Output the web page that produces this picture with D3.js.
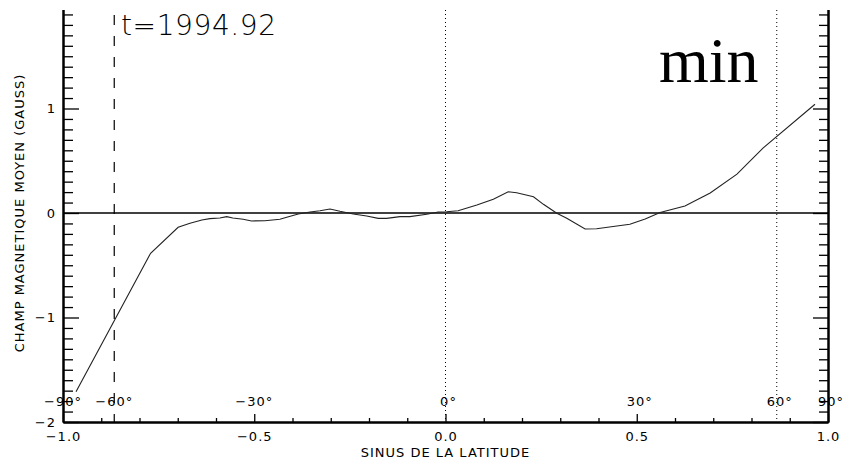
<!DOCTYPE html>
<html>
<head>
<meta charset="utf-8">
<script src="https://cdn.jsdelivr.net/npm/d3@7"></script>
<style>
  html, body { margin: 0; padding: 0; background: #fff; }
  svg { display: block; }
  .lab { font-family: "DejaVu Sans", sans-serif; font-size: 13px; letter-spacing: 1px; fill: #000; }
</style>
</head>
<body>
<svg id="chart" width="845" height="462"></svg>
<script>
// ---- data ----
const sinLat = [-0.966, -0.771, -0.699, -0.668, -0.637, -0.616, -0.590, -0.572, -0.556, -0.529,
  -0.507, -0.472, -0.433, -0.415, -0.385, -0.354, -0.328, -0.302, -0.276, -0.241,
  -0.206, -0.176, -0.154, -0.119, -0.093, -0.049, -0.019, 0.003, 0.033, 0.082,
  0.125, 0.164, 0.186, 0.230, 0.256, 0.291, 0.317, 0.365, 0.395, 0.448,
  0.482, 0.522, 0.561, 0.626, 0.692, 0.762, 0.830, 0.966];
const field = [-1.710, -0.385, -0.137, -0.098, -0.067, -0.054, -0.048, -0.035, -0.048, -0.060,
  -0.076, -0.074, -0.060, -0.041, -0.010, 0.010, 0.022, 0.038, 0.016, -0.010,
  -0.029, -0.051, -0.051, -0.035, -0.035, -0.012, 0.010, 0.012, 0.022, 0.076,
  0.131, 0.203, 0.194, 0.156, 0.083, -0.003, -0.051, -0.153, -0.150, -0.124,
  -0.108, -0.057, 0.005, 0.067, 0.191, 0.372, 0.621, 1.041];
const xMajorTicks = [-1.0, -0.5, 0.0, 0.5, 1.0];
const yMajorTicks = [-2, -1, 0, 1];
const latDegrees = [-90, -60, -30, 0, 30, 60, 90];
const latLabels = ["\u221290\u00b0", "\u221260\u00b0", "\u221230\u00b0", "0\u00b0", "30\u00b0", "60\u00b0", "90\u00b0"];
const dashedLat = [-60];
const dottedLat = [0, 60];
const xTitle = "SINUS DE LA LATITUDE";
const yTitle = "CHAMP MAGNETIQUE MOYEN (GAUSS)";
const timeLabel = "t=1994.92";
const phaseLabel = "min";

// ---- layout ----
const L = 63, R = 828, B = 422, T = 4, visTop = 10;
const svg = d3.select("#chart");
const x = d3.scaleLinear().domain([-1, 1]).range([L, R]);
const y = d3.scaleLinear().domain([-2, 2]).range([B, T]);

svg.append("defs").append("clipPath").attr("id", "clipTop")
  .append("rect").attr("x", 0).attr("y", visTop).attr("width", 845).attr("height", 462 - visTop);

const g = svg.append("g").attr("clip-path", "url(#clipTop)");

const xMinor = d3.range(-10, 11).map(i => +(i / 10).toFixed(1)).filter(v => !xMajorTicks.includes(v));
const yMinor = d3.range(-20, 20).map(i => +(i / 10).toFixed(1)).filter(v => !yMajorTicks.includes(v));

function styleAxis(sel, w) {
  sel.select(".domain").attr("stroke", "#000").attr("stroke-width", w);
  sel.selectAll(".tick line").attr("stroke", "#000").attr("stroke-width", 1.3);
}

// bottom axis
const bx1 = g.append("g").attr("transform", `translate(0,${B})`)
  .call(d3.axisBottom(x).tickValues(xMinor).tickSize(-4).tickSizeOuter(0).tickFormat(""));
styleAxis(bx1, 2);
const bx2 = g.append("g").attr("transform", `translate(0,${B})`)
  .call(d3.axisBottom(x).tickValues(xMajorTicks).tickSize(-8).tickSizeOuter(0).tickPadding(10).tickFormat(d3.format(".1f")));
styleAxis(bx2, 2);
bx2.selectAll("text").attr("class", "lab").attr("font-size", null).attr("font-family", null);

// left axis
const ly1 = g.append("g").attr("transform", `translate(${L},0)`)
  .call(d3.axisLeft(y).tickValues(yMinor).tickSize(-10).tickSizeOuter(0).tickFormat(""));
styleAxis(ly1, 2);
const ly2 = g.append("g").attr("transform", `translate(${L},0)`)
  .call(d3.axisLeft(y).tickValues(yMajorTicks).tickSize(-16).tickSizeOuter(0).tickPadding(7).tickFormat(d3.format("d")));
styleAxis(ly2, 2);
ly2.selectAll("text").attr("class", "lab").attr("font-size", null).attr("font-family", null);

// right axis
const ry1 = g.append("g").attr("transform", `translate(${R},0)`)
  .call(d3.axisRight(y).tickValues(yMinor).tickSize(-9).tickSizeOuter(0).tickFormat(""));
styleAxis(ry1, 2);
const ry2 = g.append("g").attr("transform", `translate(${R},0)`)
  .call(d3.axisRight(y).tickValues(yMajorTicks).tickSize(-15).tickSizeOuter(0).tickFormat(""));
styleAxis(ry2, 2);

// zero line
g.append("line").attr("x1", x(-1)).attr("x2", x(1)).attr("y1", y(0)).attr("y2", y(0))
  .attr("stroke", "#000").attr("stroke-width", 1.6);

// reference verticals
const rad = d => Math.sin(d * Math.PI / 180);
dashedLat.forEach(d => {
  g.append("line").attr("x1", x(rad(d))).attr("x2", x(rad(d))).attr("y1", 15).attr("y2", B)
    .attr("stroke", "#000").attr("stroke-width", 1.2).attr("stroke-dasharray", "10,11");
});
dottedLat.forEach(d => {
  g.append("line").attr("x1", x(rad(d))).attr("x2", x(rad(d))).attr("y1", 10).attr("y2", B)
    .attr("stroke", "#000").attr("stroke-width", 1).attr("stroke-dasharray", "1,3");
});

// curve
const pts = sinLat.map((s, i) => [s, field[i]]);
g.append("path").datum(pts)
  .attr("d", d3.line().x(d => x(d[0])).y(d => y(d[1])))
  .attr("fill", "none").attr("stroke", "#222").attr("stroke-width", 1.1);

// latitude labels
latDegrees.forEach((d, i) => {
  g.append("text").attr("class", "lab")
    .attr("x", x(rad(d)) + (d >= 0 ? 3 : 0)).attr("y", 406)
    .attr("text-anchor", "middle").text(latLabels[i]);
});

// axis titles
svg.append("text").attr("class", "lab").attr("text-anchor", "middle")
  .attr("x", x(0)).attr("y", 457).text(xTitle);
svg.append("text").attr("class", "lab").attr("text-anchor", "middle")
  .attr("letter-spacing", 0.7)
  .attr("transform", `translate(24,${y(0)}) rotate(-90)`).text(yTitle);

// annotations
svg.append("text").attr("x", 121).attr("y", 35)
  .attr("font-family", "DejaVu Sans, sans-serif").attr("font-weight", 200)
  .attr("font-size", 28).attr("letter-spacing", 0.6).attr("fill", "#000").text(timeLabel);
svg.append("text").attr("x", 659).attr("y", 82)
  .attr("font-family", "Liberation Serif, Times New Roman, serif")
  .attr("font-size", 64).attr("fill", "#000").text(phaseLabel);
</script>
</body>
</html>
